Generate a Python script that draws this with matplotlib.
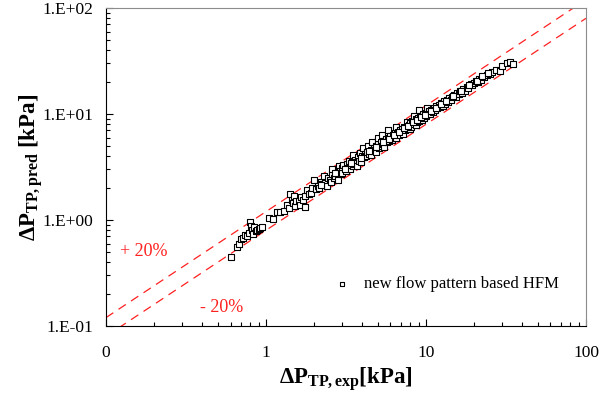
import matplotlib
matplotlib.use("Agg")
import matplotlib.pyplot as plt
from matplotlib.ticker import FixedLocator, FixedFormatter, LogLocator, NullFormatter
import numpy as np

plt.rcParams['font.family'] = ['Liberation Serif', 'DejaVu Serif']
plt.rcParams['mathtext.fontset'] = 'custom'
plt.rcParams['mathtext.rm'] = 'Liberation Serif'
plt.rcParams['mathtext.bf'] = 'Liberation Serif:bold'
plt.rcParams['mathtext.it'] = 'Liberation Serif:italic'

dp_exp = [0.60, 0.66, 0.68, 0.70, 0.72, 0.74, 0.76, 0.78, 0.80, 0.81, 0.82, 0.83, 0.84, 0.86, 0.88, 0.90, 0.92, 0.95,
          1.05, 1.10, 1.18, 1.22, 1.30, 1.35, 1.40, 1.42, 1.45, 1.48, 1.50, 1.52, 1.55, 1.60, 1.62, 1.65, 1.70, 1.75,
          1.75, 1.80, 1.85, 1.90, 1.95,
          2.00, 2.05, 2.10, 2.15, 2.20, 2.25, 2.30, 2.35, 2.40, 2.45, 2.50, 2.55, 2.60, 2.60, 2.65, 2.70, 2.75, 2.80,
          2.85, 2.90, 2.95, 3.00, 3.00, 3.05, 3.10, 3.15, 3.20, 3.25, 3.30, 3.35, 3.40, 3.45, 3.50, 3.50, 3.55, 3.60,
          3.65, 3.70, 3.75, 3.80, 3.85, 3.90, 3.95, 4.00,
          4.05, 4.10, 4.15, 4.20, 4.30, 4.35, 4.40, 4.50, 4.55, 4.60, 4.65, 4.70, 4.80, 4.85, 4.90, 5.00, 5.00, 5.10,
          5.20, 5.25, 5.30, 5.40, 5.50, 5.50, 5.60, 5.70, 5.80, 5.80, 5.90, 6.00, 6.10, 6.20, 6.30, 6.40, 6.50, 6.50,
          6.60, 6.70, 6.80, 6.90, 7.00, 7.10, 7.20, 7.30, 7.40, 7.50, 7.60, 7.70, 7.80, 7.90,
          8.00, 8.10, 8.20, 8.30, 8.40, 8.50, 8.60, 8.70, 8.80, 8.90, 9.00, 9.10, 9.20, 9.30, 9.40, 9.50, 9.60, 9.70,
          9.80, 10.0, 10.0, 10.2, 10.3, 10.5, 10.6, 10.8, 11.0, 11.2, 11.4, 11.6, 11.8, 12.0, 12.2, 12.5, 12.7, 13.0,
          13.2, 13.5, 13.8, 14.0, 14.3, 14.6, 15.0,
          15.3, 15.6, 16.0, 16.3, 16.7, 17.0, 17.5, 18.0, 18.4, 19.0, 19.5, 20.0, 20.5, 21.0, 21.5, 22.0, 23.0, 24.0,
          25.0, 26.0, 27.5, 29.0, 30.0, 32.0, 33.5, 35.0,
          2.2, 2.7, 3.1, 3.4, 3.9, 4.4, 4.9, 5.4, 5.9, 6.3, 6.8, 7.3, 7.7, 8.3, 8.8, 9.3, 9.9, 10.7, 11.5, 12.4,
          13.4, 14.8, 16.5, 18.7, 20.8, 22.5, 24.5]
dp_pred = [0.45, 0.56, 0.60, 0.66, 0.68, 0.72, 0.70, 0.76, 0.95, 0.88, 0.80, 0.74, 0.86, 0.78, 0.80, 0.82, 0.84, 0.86,
           1.05, 1.02, 1.20, 1.18, 1.22, 1.40, 1.30, 1.75, 1.55, 1.45, 1.70, 1.35, 1.50, 1.50, 1.40, 1.65, 1.55, 1.70,
           1.33, 1.90, 1.75, 1.80, 2.00,
           2.40, 1.95, 2.10, 2.00, 2.30, 2.20, 2.60, 2.25, 2.10, 2.50, 2.40, 2.30, 2.70, 3.00, 2.50, 2.60, 2.80, 2.40,
           3.20, 2.90, 2.70, 3.10, 2.80, 3.30, 3.00, 2.90, 3.40, 3.10, 3.60, 3.00, 3.30, 3.50, 3.20, 4.10, 3.40, 3.70,
           3.50, 3.20, 3.90, 3.60, 4.30, 3.70, 3.50, 4.00,
           4.80, 3.90, 4.20, 4.00, 4.40, 5.00, 4.20, 4.60, 4.10, 5.50, 4.50, 4.80, 4.60, 5.00, 4.40, 5.20, 6.00, 4.80,
           5.40, 5.00, 6.30, 5.20, 5.60, 4.90, 5.80, 5.40, 6.00, 7.00, 5.60, 6.20, 5.70, 6.40, 6.00, 6.60, 5.90, 7.50,
           6.50, 6.80, 6.30, 7.00, 6.80, 7.30, 6.50, 7.60, 7.10, 7.40, 8.40, 7.30, 7.90, 7.20,
           8.20, 7.60, 8.60, 8.00, 9.60, 8.40, 7.90, 8.90, 8.50, 9.20, 8.60, 10.8, 9.00, 9.60, 8.80, 9.40, 10.0, 9.20,
           9.90, 10.2, 9.50, 11.5, 10.0, 10.6, 9.90, 11.0, 10.5, 11.4, 10.8, 12.0, 11.3, 12.2, 11.6, 12.8, 12.0, 13.2,
           12.5, 13.6, 13.0, 14.2, 13.6, 14.6, 15.2,
           14.5, 15.8, 15.4, 16.5, 15.9, 17.2, 16.6, 18.1, 17.5, 19.0, 18.6, 19.8, 20.4, 19.9, 21.3, 20.8, 22.5, 23.5,
           24.0, 25.0, 26.0, 25.5, 28.5, 30.5, 31.0, 29.5,
           2.15, 2.75, 3.05, 3.45, 3.85, 4.45, 4.85, 5.45, 5.85, 6.35, 6.75, 7.35, 7.65, 8.35, 8.75, 9.35, 9.85, 10.7,
           11.4, 12.5, 13.3, 14.9, 16.4, 18.8, 20.6, 22.7, 24.3]

bounds = [1.2, 0.8]          # +/-20 % lines
line_x = [0.1, 100]

fig = plt.figure(figsize=(6.12, 3.94), dpi=100)
ax = fig.add_axes([0.1732, 0.1726, 0.7843, 0.807])

for b in bounds:
    ax.plot(line_x, [b * v for v in line_x], color='#ff2020', lw=0.9, ls=(0, (7, 5)))

ax.scatter(dp_exp, dp_pred, marker='s', s=20, facecolors='white', edgecolors='black',
           linewidths=0.8, zorder=3, label='new flow pattern based HFM')

ax.set_xscale('log')
ax.set_yscale('log')
ax.set_xlim(0.1, 100)
ax.set_ylim(0.1, 100)

ax.xaxis.set_major_locator(FixedLocator([0.1, 1, 10, 100]))
ax.xaxis.set_major_formatter(FixedFormatter(['0', '1', '10', '100']))
ax.yaxis.set_major_locator(FixedLocator([0.1, 1, 10, 100]))
ax.yaxis.set_major_formatter(FixedFormatter(['1.E-01', '1.E+00', '1.E+01', '1.E+02']))
ax.xaxis.set_minor_locator(LogLocator(base=10, subs=np.arange(2, 10)))
ax.yaxis.set_minor_locator(LogLocator(base=10, subs=np.arange(2, 10)))
ax.xaxis.set_minor_formatter(NullFormatter())
ax.yaxis.set_minor_formatter(NullFormatter())

ax.tick_params(which='both', direction='in', top=False, right=False, labelsize=12.5)
ax.tick_params(which='major', length=5, width=0.8)
ax.tick_params(which='minor', length=3, width=0.8)
ax.tick_params(axis='x', which='major', pad=14)
ax.tick_params(axis='y', which='major', pad=9)

ax.spines['top'].set_color('#8c8c8c')
ax.spines['right'].set_color('#8c8c8c')
ax.spines['left'].set_color('black')
ax.spines['bottom'].set_color('black')

ax.set_xlabel(r'$\mathbf{\Delta P_{TP,exp}[kPa]}$', fontsize=16.5, labelpad=3)
ax.set_ylabel(r'$\mathbf{\Delta P_{TP,pred}\ [kPa]}$', fontsize=16.5, labelpad=-2)

ax.text(0.122, 0.5, '+ 20%', color='#ff2020', fontsize=13, va='center')
ax.text(0.385, 0.148, '- 20%', color='#ff2020', fontsize=13, va='center')

ax.legend(loc='lower right', bbox_to_anchor=(0.975, 0.06), frameon=False, fontsize=12,
          handletextpad=0.3, markerscale=0.6, scatterpoints=1)

fig.savefig('out.png', dpi=100)
